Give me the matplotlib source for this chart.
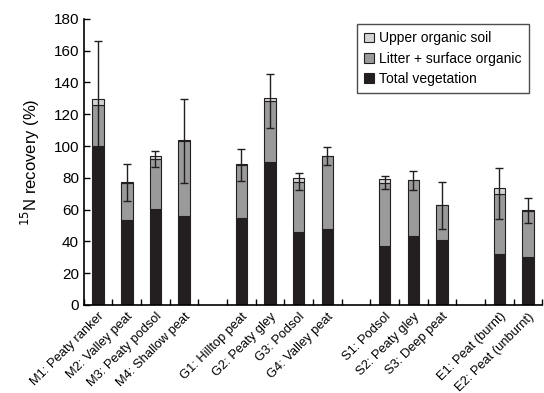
import numpy as np
import matplotlib
matplotlib.use("Agg")
import matplotlib.pyplot as plt

plt.rcParams['font.family'] = ['Liberation Sans', 'DejaVu Sans']

# Sites, grouped by region (None = gap between groups)
sites = ["M1: Peaty ranker", "M2: Valley peat", "M3: Peaty podsol", "M4: Shallow peat", None,
         "G1: Hilltop peat", "G2: Peaty gley", "G3: Podsol", "G4: Valley peat", None,
         "S1: Podsol", "S2: Peaty gley", "S3: Deep peat", None,
         "E1: Peat (burnt)", "E2: Peat (unburnt)"]

# 15N recovery (%) per pool, one value per site (gaps skipped)
vegetation = [100, 53.5, 60.5, 56, 54.7, 89.8, 46, 47.8, 37, 43.6, 41, 32.3, 30]
litter = [26, 23.5, 31.4, 47.4, 33.6, 38.3, 31.6, 45.8, 40, 34.9, 21.7, 37.6, 29.4]
upper_soil = [3.5, 0.5, 1.7, 0.3, 0.3, 2.0, 2.0, 0.3, 2.5, 0.3, 0.3, 3.5, 0.3]
# standard error, drawn about the vegetation + litter total
err = [40, 11.5, 4.8, 26.4, 10, 17, 5.5, 5.7, 4, 6, 14.9, 16, 8]

pos = np.array([i for i, s in enumerate(sites) if s is not None])
labels = [s for s in sites if s is not None]
vegetation = np.array(vegetation)
litter = np.array(litter)
upper_soil = np.array(upper_soil)

fig = plt.figure(figsize=(5.44, 3.93), dpi=100)
ax = fig.add_axes([0.154, 0.224, 0.843, 0.728])

w = 0.4
ax.bar(pos, vegetation, w, color='#231f20', edgecolor='#231f20', lw=0.8,
       label='Total vegetation', zorder=2)
ax.bar(pos, litter, w, bottom=vegetation, color='#9a9a9a', edgecolor='#231f20', lw=0.8,
       label='Litter + surface organic', zorder=2)
ax.bar(pos, upper_soil, w, bottom=vegetation + litter, color='#d4d4d4', edgecolor='#231f20',
       lw=0.8, label='Upper organic soil', zorder=2)
ax.errorbar(pos, vegetation + litter, yerr=err, fmt='none', ecolor='#231f20',
            elinewidth=1.0, capsize=3, capthick=1.0, zorder=3)

ax.set_xlim(-0.5, len(sites) - 0.5)
ax.set_ylim(0, 180)
ax.set_yticks(np.arange(0, 181, 20))
ax.set_xticks(pos)
ax.set_xticklabels(labels, rotation=45, ha='right', rotation_mode='anchor', fontsize=9.3)
ax.set_xticks(np.arange(-0.5, len(sites), 1.0), minor=True)
ax.tick_params(axis='x', which='major', length=0, pad=4)
ax.tick_params(axis='x', which='minor', direction='in', length=4, width=1)
ax.tick_params(axis='y', direction='in', length=4, width=1, labelsize=11)
ax.set_ylabel('$^{15}$N recovery (%)', fontsize=12, labelpad=8)

for side in ('top', 'right'):
    ax.spines[side].set_visible(False)
for side in ('left', 'bottom'):
    ax.spines[side].set_linewidth(1.2)

handles, lbls = ax.get_legend_handles_labels()
leg = ax.legend(handles[::-1], lbls[::-1], loc='upper right', bbox_to_anchor=(0.985, 1.005),
                fontsize=10, frameon=True, fancybox=False, edgecolor='#231f20',
                handlelength=0.7, handleheight=0.7, handletextpad=0.4,
                borderpad=0.5, labelspacing=0.45)
leg.get_frame().set_linewidth(1.0)

fig.savefig('out.png', dpi=100)
